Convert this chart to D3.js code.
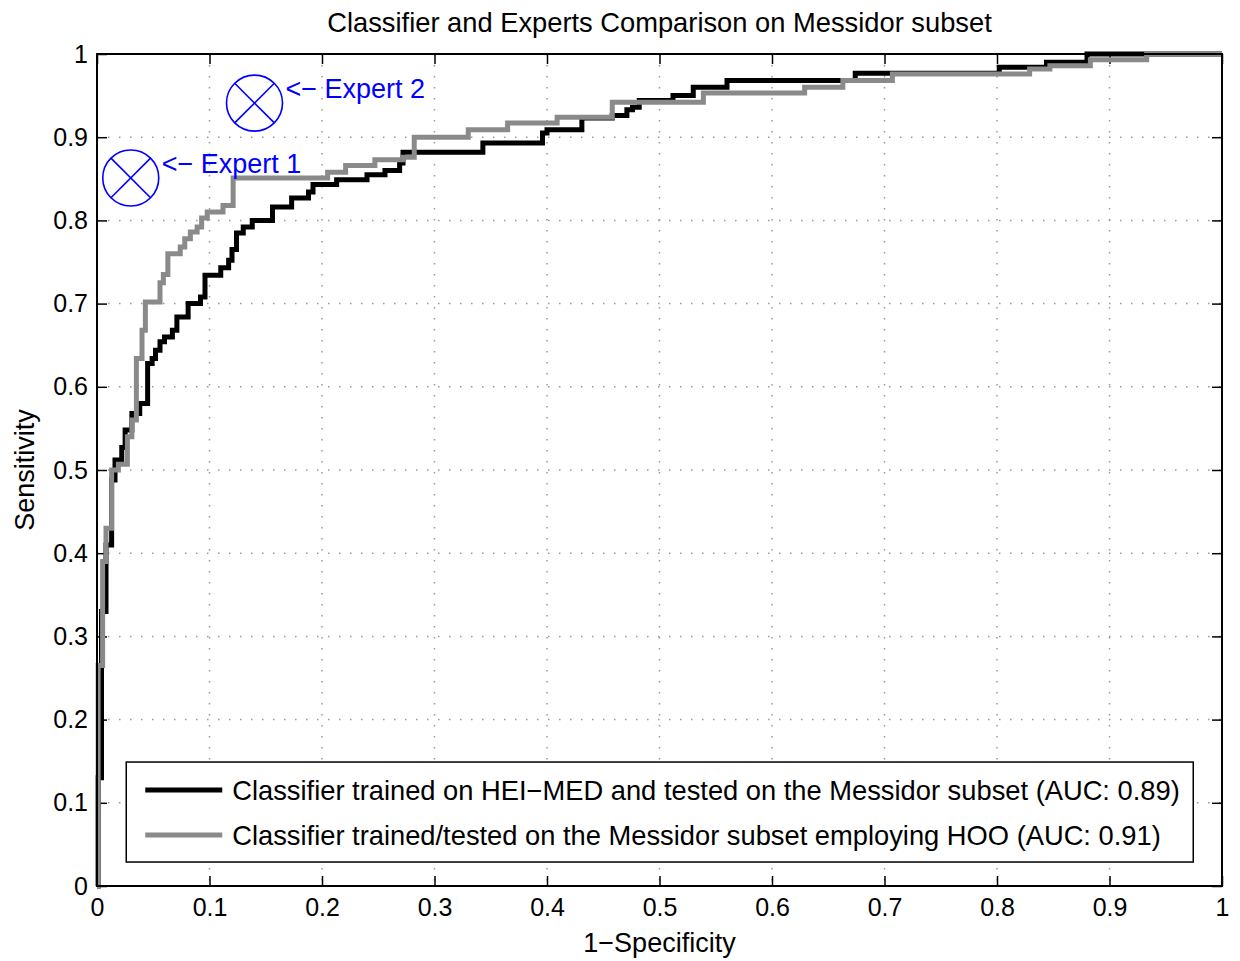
<!DOCTYPE html>
<html lang="en">
<head>
<meta charset="UTF-8">
<title>Classifier and Experts Comparison on Messidor subset</title>
<style>
  body { margin: 0; background: #fff; }
  svg { font-family: "Liberation Sans", Arial, Helvetica, sans-serif; }
</style>
</head>
<body>
<script src="https://cdn.jsdelivr.net/npm/d3@7"></script>
<script>
// axis ticks
var xTicks = [0, 0.1, 0.2, 0.3, 0.4, 0.5, 0.6, 0.7, 0.8, 0.9, 1];
var yTicks = [0, 0.1, 0.2, 0.3, 0.4, 0.5, 0.6, 0.7, 0.8, 0.9, 1];
var tickLabels = ['0', '0.1', '0.2', '0.3', '0.4', '0.5', '0.6', '0.7', '0.8', '0.9', '1'];

// ROC: trained on HEI-MED, tested on Messidor subset (x = 1-specificity, y = sensitivity)
var heiFpr = [0, 0.001, 0.004, 0.008, 0.013, 0.016, 0.022, 0.025, 0.031, 0.038, 0.045, 0.049, 0.052, 0.056,
  0.060, 0.067, 0.071, 0.081, 0.092, 0.096, 0.110, 0.117, 0.120, 0.124, 0.130, 0.138, 0.156, 0.173, 0.188,
  0.192, 0.213, 0.240, 0.256, 0.269, 0.272, 0.343, 0.396, 0.400, 0.431, 0.458, 0.471, 0.476, 0.482, 0.512,
  0.530, 0.560, 0.674, 0.802, 0.844, 0.880, 1];
var heiTpr = [0, 0.130, 0.330, 0.410, 0.488, 0.512, 0.527, 0.548, 0.568, 0.580, 0.628, 0.634, 0.644, 0.654,
  0.660, 0.668, 0.684, 0.700, 0.708, 0.734, 0.743, 0.752, 0.765, 0.785, 0.792, 0.800, 0.816, 0.827, 0.834,
  0.843, 0.849, 0.855, 0.860, 0.869, 0.882, 0.893, 0.905, 0.909, 0.923, 0.926, 0.933, 0.936, 0.944, 0.950,
  0.960, 0.968, 0.977, 0.984, 0.990, 1.000, 1];

// ROC: trained/tested on Messidor subset with HOO
var hooFpr = [0, 0.001, 0.005, 0.008, 0.013, 0.019, 0.027, 0.031, 0.035, 0.040, 0.043, 0.056, 0.059, 0.063,
  0.074, 0.078, 0.083, 0.089, 0.093, 0.098, 0.112, 0.121, 0.205, 0.221, 0.247, 0.272, 0.282, 0.330, 0.365,
  0.409, 0.458, 0.539, 0.629, 0.663, 0.707, 0.829, 0.847, 0.883, 0.933, 1];
var hooTpr = [0, 0.265, 0.390, 0.430, 0.500, 0.507, 0.540, 0.560, 0.634, 0.668, 0.702, 0.725, 0.735, 0.760,
  0.768, 0.778, 0.786, 0.792, 0.803, 0.810, 0.818, 0.851, 0.858, 0.866, 0.873, 0.876, 0.900, 0.909, 0.917,
  0.924, 0.942, 0.953, 0.960, 0.968, 0.976, 0.982, 0.986, 0.993, 1.000, 1];

// expert operating points
var expertNames = ['Expert 1', 'Expert 2'];
var expertFpr = [0.030, 0.140];
var expertTpr = [0.851, 0.941];

var legendLabels = [
  'Classifier trained on HEI\u2212MED and tested on the Messidor subset (AUC: 0.89)',
  'Classifier trained/tested on the Messidor subset employing HOO (AUC: 0.91)'
];
var seriesColors = ['#000000', '#8a8a8a'];

// layout
var W = 1240, H = 961;
var margin = { left: 97, top: 54, right: 18, bottom: 75 };
var pw = W - margin.left - margin.right;   // 1125
var ph = H - margin.top - margin.bottom;   // 832

var svg = d3.select('body').append('svg').attr('width', W).attr('height', H);
var g = svg.append('g').attr('transform', 'translate(' + margin.left + ',' + margin.top + ')');

var x = d3.scaleLinear().domain([0, 1]).range([0, pw]);
var y = d3.scaleLinear().domain([0, 1]).range([ph, 0]);

// dotted grid
g.append('g').selectAll('line.gx').data(xTicks.slice(1, -1)).enter().append('line')
  .attr('x1', function (d) { return x(d); }).attr('x2', function (d) { return x(d); })
  .attr('y1', 0).attr('y2', ph)
  .attr('stroke', '#9a9a9a').attr('stroke-width', 1.5).attr('stroke-dasharray', '1.5,9.5');
g.append('g').selectAll('line.gy').data(yTicks.slice(1, -1)).enter().append('line')
  .attr('y1', function (d) { return y(d); }).attr('y2', function (d) { return y(d); })
  .attr('x1', 0).attr('x2', pw)
  .attr('stroke', '#9a9a9a').attr('stroke-width', 1.5).attr('stroke-dasharray', '1.5,9.5');

// axes (ticks point inward, MATLAB style)
function fmt(d, i) { return tickLabels[i]; }
var xAxis = g.append('g').attr('transform', 'translate(0,' + ph + ')')
  .call(d3.axisBottom(x).tickValues(xTicks).tickFormat(fmt).tickSizeInner(-10).tickSizeOuter(0).tickPadding(12));
var yAxis = g.append('g')
  .call(d3.axisLeft(y).tickValues(yTicks).tickFormat(fmt).tickSizeInner(-10).tickSizeOuter(0).tickPadding(9));
var xTop = g.append('g')
  .call(d3.axisTop(x).tickValues(xTicks).tickFormat('').tickSizeInner(-10).tickSizeOuter(0));
var yRight = g.append('g').attr('transform', 'translate(' + pw + ',0)')
  .call(d3.axisRight(y).tickValues(yTicks).tickFormat('').tickSizeInner(-10).tickSizeOuter(0));

[xAxis, yAxis, xTop, yRight].forEach(function (a) {
  a.select('.domain').remove();
  a.selectAll('.tick line').attr('stroke', '#000').attr('stroke-width', 1.5);
  a.selectAll('text').attr('font-size', 25).attr('fill', '#000')
    .attr('font-family', '"Liberation Sans", Arial, sans-serif');
});
xAxis.selectAll('text').attr('dy', '0.71em');

// ROC curves
var line = d3.line()
  .x(function (d) { return x(d[0]); })
  .y(function (d) { return y(d[1]); })
  .curve(d3.curveStepAfter);

var heiPts = heiFpr.map(function (v, i) { return [v, heiTpr[i]]; });
var hooPts = hooFpr.map(function (v, i) { return [v, hooTpr[i]]; });

g.append('path').datum(heiPts).attr('d', line)
  .attr('fill', 'none').attr('stroke', seriesColors[0]).attr('stroke-width', 5);
g.append('path').datum(hooPts).attr('d', line)
  .attr('fill', 'none').attr('stroke', seriesColors[1]).attr('stroke-width', 5);

// box
g.append('rect').attr('width', pw).attr('height', ph)
  .attr('fill', 'none').attr('stroke', '#000').attr('stroke-width', 2);

// expert markers
var r = 28, k = r * Math.SQRT1_2;
expertNames.forEach(function (name, i) {
  var cx = x(expertFpr[i]), cy = y(expertTpr[i]);
  var m = g.append('g').attr('stroke', '#0000ff').attr('stroke-width', 1.6).attr('fill', 'none');
  m.append('circle').attr('cx', cx).attr('cy', cy).attr('r', r);
  m.append('line').attr('x1', cx - k).attr('y1', cy - k).attr('x2', cx + k).attr('y2', cy + k);
  m.append('line').attr('x1', cx - k).attr('y1', cy + k).attr('x2', cx + k).attr('y2', cy - k);
  g.append('text').attr('x', cx + r + 3).attr('y', cy - 5)
    .attr('font-size', 27).attr('fill', '#0000ff')
    .text('<\u2212 ' + name);
});

// legend
var lg = g.append('g').attr('transform', 'translate(' + x(0.026) + ',' + y(0.149) + ')');
lg.append('rect').attr('width', 1067).attr('height', 100)
  .attr('fill', '#fff').attr('stroke', '#000').attr('stroke-width', 1.5);
legendLabels.forEach(function (lab, i) {
  var ly = 28 + i * 45;
  lg.append('line').attr('x1', 19).attr('x2', 96).attr('y1', ly).attr('y2', ly)
    .attr('stroke', seriesColors[i]).attr('stroke-width', 5);
  lg.append('text').attr('x', 106).attr('y', ly).attr('dy', '0.35em')
    .attr('font-size', 27.3).attr('fill', '#000').text(lab);
});

// title and axis labels
svg.append('text').attr('x', margin.left + pw / 2).attr('y', 22).attr('dy', '0.35em')
  .attr('text-anchor', 'middle').attr('font-size', 27.3).attr('fill', '#000')
  .text('Classifier and Experts Comparison on Messidor subset');
svg.append('text').attr('x', margin.left + pw / 2).attr('y', 943).attr('dy', '0.35em')
  .attr('text-anchor', 'middle').attr('font-size', 27).attr('fill', '#000')
  .text('1\u2212Specificity');
svg.append('text').attr('transform', 'translate(25,' + (margin.top + ph / 2) + ') rotate(-90)')
  .attr('dy', '0.35em').attr('text-anchor', 'middle').attr('font-size', 27).attr('fill', '#000')
  .text('Sensitivity');
</script>
</body>
</html>
